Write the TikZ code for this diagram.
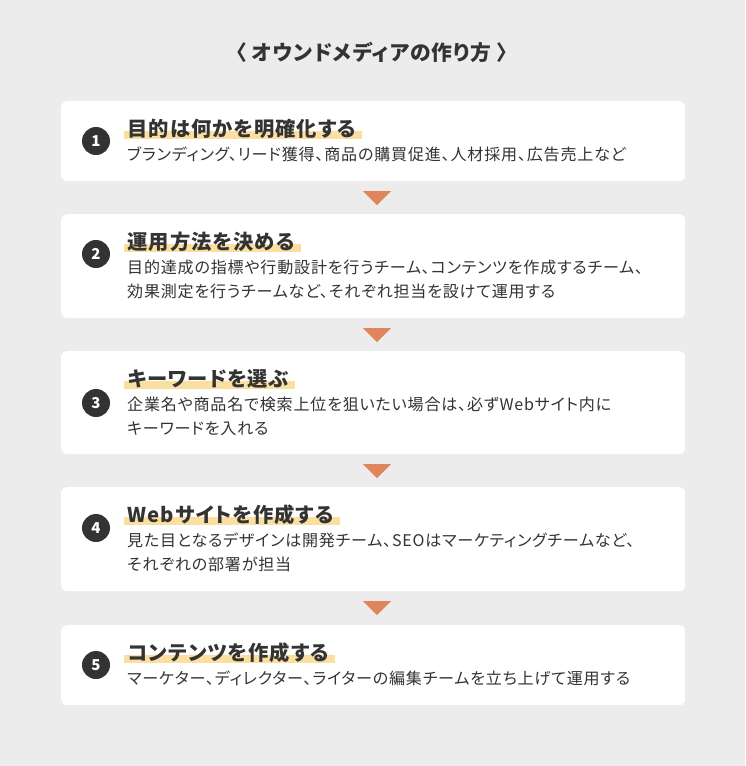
\documentclass[tikz,border=0pt]{standalone}
\usepackage{fontspec}
\setmainfont{Noto Sans CJK JP}[RawFeature=+palt, LetterSpace=5]
\definecolor{paper}{HTML}{ECECEC}
\definecolor{ink}{HTML}{333333}
\definecolor{arrowfill}{HTML}{E0855B}
\definecolor{marker}{HTML}{FADFA0}
\pgfdeclarelayer{base}
\pgfdeclarelayer{marks}
\pgfsetlayers{base,marks,main}

\begin{document}
\begin{tikzpicture}[x=1pt, y=-1pt,
  panel/.style = {fill=white, rounded corners=6pt, inner sep=0pt,
    minimum width=624pt, anchor=north west},
  badge/.style = {circle, fill=ink, text=white, minimum size=28pt,
    inner sep=0pt, font=\bfseries\fontsize{15}{15}\selectfont},
  headline/.style = {anchor=base west, inner sep=0pt, text=ink,
    font=\bfseries\fontsize{20.3}{20.3}\selectfont},
  detail/.style = {anchor=base west, inner sep=0pt, align=left, text=ink,
    font=\fontsize{16.05}{24}\selectfont},
  hilite/.style = {fill=marker},
  pointer/.style = {fill=arrowfill}]
  \useasboundingbox (0,0) rectangle (745,766);
  \begin{pgfonlayer}{base}
    \fill[paper] (0,0) rectangle (745,766);
    \node[panel, minimum height=80pt] (p1) at (61,101) {};
    \node[panel, minimum height=104pt] (p2) at (61,214) {};
    \node[panel, minimum height=103pt] (p3) at (61,351) {};
    \node[panel, minimum height=104pt] (p4) at (61,487) {};
    \node[panel, minimum height=80pt] (p5) at (61,625) {};
  \end{pgfonlayer}

  \node[anchor=base, inner sep=0pt, text=ink,
    font=\bfseries\fontsize{20.8}{20.8}\selectfont] (title) at (372,60)
    {〈 オウンドメディアの作り方 〉};

  \coordinate (a1) at (377,191);
  \coordinate (a2) at (377,328);
  \coordinate (a3) at (377,464);
  \coordinate (a4) at (377,601);
  \fill[pointer] ([xshift=-14pt]a1) -- ++(28,0) -- ++(-14,14) -- cycle;
  \fill[pointer] ([xshift=-14pt]a2) -- ++(28,0) -- ++(-14,14) -- cycle;
  \fill[pointer] ([xshift=-14pt]a3) -- ++(28,0) -- ++(-14,14) -- cycle;
  \fill[pointer] ([xshift=-14pt]a4) -- ++(28,0) -- ++(-14,14) -- cycle;

  \node[badge] (n1) at (96,141) {1};
  \node[badge] (n2) at (96,254) {2};
  \node[badge] (n3) at (96,403) {3};
  \node[badge] (n4) at (96,528) {4};
  \node[badge] (n5) at (96,665) {5};

  \node[headline] (t1) at (127.5,136.5) {目的は何かを明確化する};
  \node[headline] (t2) at (127.5,249.5) {運用方法を決める};
  \node[headline] (t3) at (127.5,386.5) {キーワードを選ぶ};
  \node[headline] (t4) at (127.5,522.5) {Webサイトを作成する};
  \node[headline] (t5) at (127.5,660.5) {コンテンツを作成する};

  \begin{pgfonlayer}{marks}
    \fill[hilite] ([xshift=-4pt,yshift=5.5pt]t1.base west) rectangle ([xshift=6pt,yshift=-2.5pt]t1.base east);
    \fill[hilite] ([xshift=-4pt,yshift=5.5pt]t2.base west) rectangle ([xshift=6pt,yshift=-2.5pt]t2.base east);
    \fill[hilite] ([xshift=-4pt,yshift=5.5pt]t3.base west) rectangle ([xshift=6pt,yshift=-2.5pt]t3.base east);
    \fill[hilite] ([xshift=-4pt,yshift=5.5pt]t4.base west) rectangle ([xshift=6pt,yshift=-2.5pt]t4.base east);
    \fill[hilite] ([xshift=-4pt,yshift=5.5pt]t5.base west) rectangle ([xshift=6pt,yshift=-2.5pt]t5.base east);
  \end{pgfonlayer}

  \node[detail] (d1) at (127,160.5) {ブランディング、リード獲得、商品の購買促進、人材採用、広告売上など};
  \node[detail] (d2) at (127,297.5) {目的達成の指標や行動設計を行うチーム、コンテンツを作成するチーム、\\効果測定を行うチームなど、それぞれ担当を設けて運用する};
  \node[detail] (d3) at (127,434.5) {企業名や商品名で検索上位を狙いたい場合は、必ずWebサイト内に\\キーワードを入れる};
  \node[detail] (d4) at (127,570.5) {見た目となるデザインは開発チーム、SEOはマーケティングチームなど、\\それぞれの部署が担当};
  \node[detail] (d5) at (127,684.5) {マーケター、ディレクター、ライターの編集チームを立ち上げて運用する};
\end{tikzpicture}
\end{document}
